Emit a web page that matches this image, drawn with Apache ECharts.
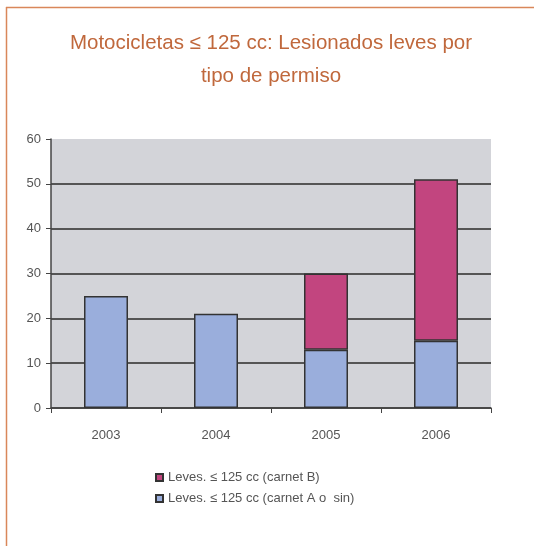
<!DOCTYPE html>
<html lang="es">
<head>
    <meta charset="UTF-8"/>
    <title>Motocicletas ≤ 125 cc</title>
    <script src="https://cdn.jsdelivr.net/npm/echarts@6/dist/echarts.min.js"></script>
    <style>
        html, body { margin: 0; padding: 0; background: #fff; }
        #chart { width: 534px; height: 546px; }
    </style>
</head>
<body>
<div id="chart"></div>
<script type="text/javascript">
    // datos
    var years = ['2003', '2004', '2005', '2006'];
    var carnetA = [25, 21, 13, 15];     // Leves. <= 125 cc (carnet A o sin)
    var carnetB = [0, 0, 17, 36];       // Leves. <= 125 cc (carnet B)
    var yTicks = [0, 10, 20, 30, 40, 50, 60];

    var nameA = 'Leves. ≤ 125 cc (carnet A o  sin)';
    var nameB = 'Leves. ≤ 125 cc (carnet B)';

    var myChart = echarts.init(document.getElementById('chart'));
    var option = {
        backgroundColor: '#fff',
        animation: false,
        title: {
            text: 'Motocicletas ≤ 125 cc: Lesionados leves por\ntipo de permiso',
            left: 266,
            top: 22,
            textAlign: 'center',
            textStyle: {
                color: '#c0683c',
                fontFamily: '"Liberation Sans Narrow", "Liberation Sans", Arial',
                fontSize: 20.5,
                fontWeight: 'normal',
                lineHeight: 33
            }
        },
        // marco naranja
        graphic: [
            { type: 'line', shape: { x1: 6, y1: 7.5, x2: 534, y2: 7.5 }, style: { stroke: '#d9875a', lineWidth: 1.5 } },
            { type: 'line', shape: { x1: 6.5, y1: 7, x2: 6.5, y2: 546 }, style: { stroke: '#d9875a', lineWidth: 1.5 } }
        ],
        legend: {
            orient: 'vertical',
            left: 150,
            top: 466,
            itemGap: 8,
            itemWidth: 7,
            itemHeight: 7,
            icon: 'rect',
            data: [nameB, nameA],
            textStyle: { color: '#555', fontSize: 13, fontFamily: 'Arial, "Liberation Sans"' }
        },
        grid: { left: 51, right: 43, top: 139, bottom: 138 },
        xAxis: {
            type: 'category',
            data: years,
            axisLine: { lineStyle: { color: '#444', width: 1.5 } },
            axisTick: { show: true, length: 5, lineStyle: { color: '#444' } },
            axisLabel: { color: '#555', fontSize: 13, margin: 21, fontFamily: 'Arial, "Liberation Sans"' },
            splitArea: { show: false }
        },
        yAxis: {
            type: 'value',
            min: 0,
            max: 60,
            interval: 10,
            axisLine: { show: true, lineStyle: { color: '#444', width: 1.5 } },
            axisTick: { show: true, length: 5, lineStyle: { color: '#444' } },
            axisLabel: {
                color: '#555', fontSize: 13, margin: 10, fontFamily: 'Arial, "Liberation Sans"',
                formatter: function (v) { return yTicks.indexOf(v) >= 0 ? String(v) : ''; }
            },
            splitLine: { show: true, showMaxLine: false, lineStyle: { color: '#555', width: 2 } },
            splitArea: { show: true, areaStyle: { color: ['#d3d4d9', '#d3d4d9'] } }
        },
        series: [
            {
                name: nameA,
                type: 'bar',
                stack: 'total',
                data: carnetA,
                barWidth: 44,
                itemStyle: { color: '#9aaedc', borderColor: '#333', borderWidth: 1.5 }
            },
            {
                name: nameB,
                type: 'bar',
                stack: 'total',
                data: carnetB.map(function (v) { return v === 0 ? null : v; }),
                barWidth: 44,
                itemStyle: { color: '#c2457f', borderColor: '#333', borderWidth: 1.5 }
            }
        ]
    };
    myChart.setOption(option);
</script>
</body>
</html>
